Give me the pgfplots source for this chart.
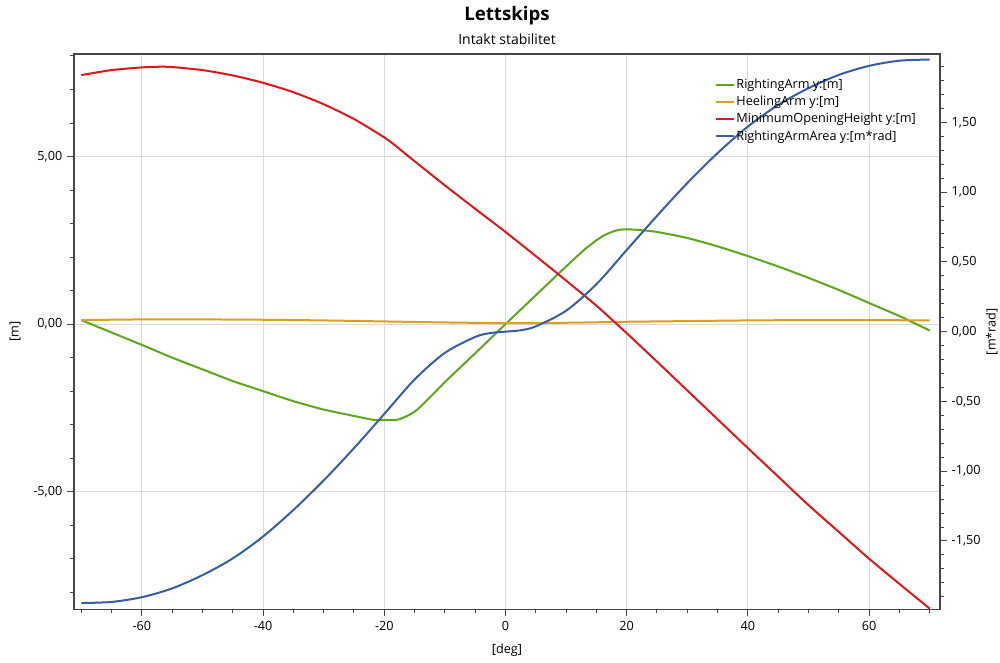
\documentclass[border=0pt]{standalone}
\usepackage{pgfplots}
\pgfplotsset{compat=1.18}
\usepackage{fontspec}
\setmainfont{Open Sans}
\definecolor{cgreen}{RGB}{93,166,30}
\definecolor{corange}{RGB}{218,160,30}
\definecolor{cred}{RGB}{222,24,24}
\definecolor{cblue}{RGB}{55,94,160}
\definecolor{cgrid}{RGB}{218,218,218}
\definecolor{caxis}{RGB}{70,70,70}

\pgfplotstableread{
x y
-70 0.12
-65 -0.25
-60 -0.62
-55 -1.00
-50 -1.35
-45 -1.70
-40 -2.00
-35 -2.30
-30 -2.55
-25 -2.74
-21.6 -2.86
-18 -2.86
-17 -2.80
-16 -2.72
-15 -2.61
-14 -2.46
-12 -2.10
-10 -1.73
-5 -0.87
0 0.00
5 0.86
10 1.72
13 2.22
15 2.50
16 2.62
17 2.71
18 2.78
19 2.82
20 2.83
22 2.81
25 2.75
30 2.57
35 2.32
40 2.03
45 1.72
50 1.38
55 1.02
60 0.63
65 0.24
70 -0.19
}\greentab

\pgfplotstableread{
x y
-70 0.12
-60 0.14
-50 0.14
-40 0.13
-30 0.11
-20 0.08
-10 0.05
0 0.03
10 0.04
20 0.07
30 0.09
40 0.11
50 0.12
60 0.12
70 0.11
}\orangetab

\pgfplotstableread{
x y
-70 7.43
-65 7.58
-60 7.66
-57 7.68
-55 7.67
-50 7.58
-45 7.42
-40 7.20
-35 6.92
-30 6.56
-25 6.12
-20 5.57
-18 5.30
-15 4.86
-10 4.14
-5 3.44
0 2.75
5 2.03
10 1.30
15 0.55
20 -0.27
25 -1.12
30 -1.98
35 -2.84
40 -3.70
45 -4.55
50 -5.40
55 -6.20
60 -7.00
65 -7.75
70 -8.49
}\redtab

\pgfplotstableread{
x y
-70 -1.945
-65 -1.937
-60 -1.903
-55 -1.840
-50 -1.745
-45 -1.625
-40 -1.468
-35 -1.278
-30 -1.066
-25 -0.835
-20 -0.590
-15 -0.343
-10 -0.152
-5 -0.038
-2.5 -0.010
0 0.000
2.5 0.010
5 0.038
10 0.150
15 0.340
20 0.585
25 0.830
30 1.065
35 1.280
40 1.470
45 1.625
50 1.745
55 1.840
60 1.905
65 1.942
70 1.950
}\bluetab

\begin{document}
\begin{tikzpicture}
\useasboundingbox (-55.5pt,-39.75pt) rectangle (694.5pt,457pt);
\pgfplotsset{
  base/.style={
    at={(0pt,0pt)}, anchor=south west,
    scale only axis, width=649.5pt, height=416.5pt,
    xmin=-71.2, xmax=71.7,
    tick align=outside,
    major tick length=5.25pt, minor tick length=3pt,
    tick style={caxis, line width=0.75pt},
    axis line style={caxis, line width=0.9pt},
    tick label style={font=\fontsize{9.5}{11}\selectfont},
    label style={font=\fontsize{9.5}{11}\selectfont},
    /pgf/number format/assume math mode=true,
    yticklabel style={/pgf/number format/.cd, fixed, fixed zerofill, precision=2, use comma, assume math mode=true},
  },
}
\begin{axis}[base, name=ax1,
  ymin=-8.51, ymax=8.06,
  xtick={-60,-40,...,60}, minor xtick={-70,-65,...,70},
  ytick={-5,0,5}, minor ytick={-8,-7,...,8},
  xtick pos=bottom, ytick pos=left,
  grid=major, major grid style={cgrid, line width=0.75pt},
  xlabel={[deg]}, ylabel={[m]},
  xlabel style={at={(axis description cs:0.5,-0.074)}, anchor=center},
  ylabel style={at={(axis description cs:-0.068,0.5)}, anchor=center, rotate=0},
]
\addplot[cgreen, line width=1.5pt, smooth, tension=0.3] table[x=x,y=y] {\greentab};
\addplot[corange, line width=1.5pt, smooth] table[x=x,y=y] {\orangetab};
\addplot[cred, line width=1.5pt, smooth, tension=0.4] table[x=x,y=y] {\redtab};
\end{axis}
\begin{axis}[base,
  ymin=-1.99, ymax=1.99,
  hide x axis, axis y line*=right,
  ytick={-1.5,-1,...,1.5},
  minor ytick={-1.9,-1.8,-1.7,-1.6,-1.4,-1.3,-1.2,-1.1,-0.9,-0.8,-0.7,-0.6,-0.4,-0.3,-0.2,-0.1,0.1,0.2,0.3,0.4,0.6,0.7,0.8,0.9,1.1,1.2,1.3,1.4,1.6,1.7,1.8,1.9},
  ylabel={[m*rad]},
  ylabel style={at={(axis description cs:1.0597,0.5)}, anchor=center, rotate=0},
  legend style={draw=none, fill=none, at={(rel axis cs:0.740,0.958)}, anchor=north west,
    font=\fontsize{9.5}{11}\selectfont, inner sep=0pt, row sep=2.2pt,
    nodes={inner sep=1pt}},
  legend cell align=left,
  legend image code/.code={\draw[#1] (0pt,0pt) -- (13.5pt,0pt);},
]
\addlegendimage{cgreen, line width=1.5pt}
\addlegendentry{RightingArm y:[m]}
\addlegendimage{corange, line width=1.5pt}
\addlegendentry{HeelingArm y:[m]}
\addlegendimage{cred, line width=1.5pt}
\addlegendentry{MinimumOpeningHeight y:[m]}
\addplot[cblue, line width=1.5pt, smooth] table[x=x,y=y] {\bluetab};
\addlegendentry{RightingArmArea y:[m*rad]}
\end{axis}
\node[font=\fontsize{14}{16}\selectfont\bfseries] at (ax1.north) [yshift=29pt] {Lettskips};
\node[font=\fontsize{10.5}{12}\selectfont] at (ax1.north) [yshift=11pt] {Intakt stabilitet};
\end{tikzpicture}
\end{document}
